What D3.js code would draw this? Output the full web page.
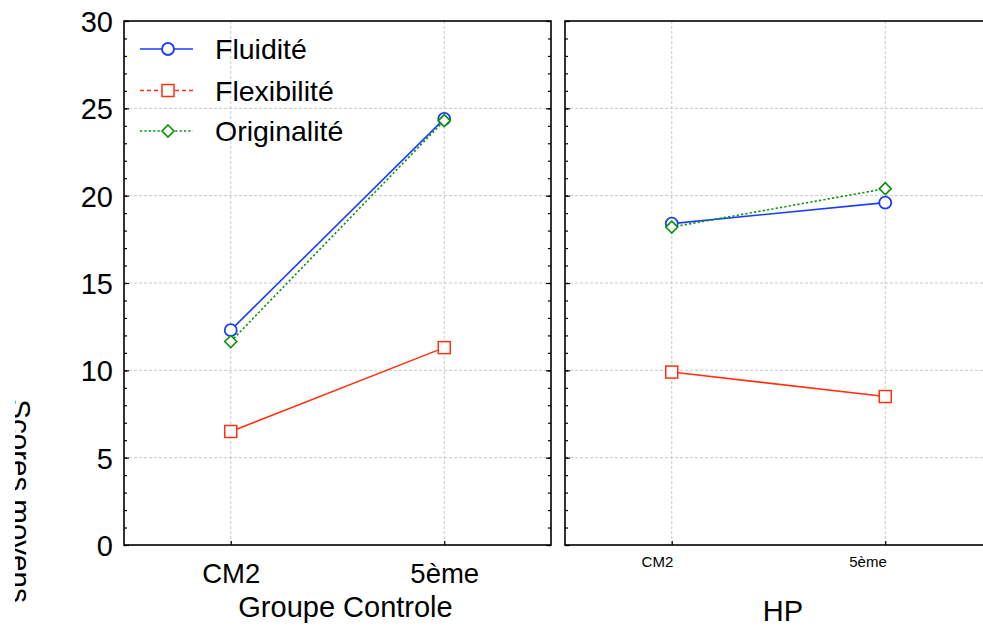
<!DOCTYPE html>
<html><head><meta charset="utf-8">
<script src="https://cdn.jsdelivr.net/npm/d3@7"></script>
<style>body{margin:0;background:#fff}svg{display:block}text{font-family:"Liberation Sans",Arial,sans-serif;fill:#000}</style>
</head><body>
<svg id="c" width="983" height="633"></svg>
<script>
const categories = ["CM2", "5ème"];
const groups = ["Groupe Controle", "HP"];
const seriesNames = ["Fluidité", "Flexibilité", "Originalité"];
const fluiditeCtrl = [12.3, 24.4];
const flexibiliteCtrl = [6.5, 11.3];
const originaliteCtrl = [11.65, 24.3];
const fluiditeHP = [18.4, 19.6];
const flexibiliteHP = [9.9, 8.5];
const originaliteHP = [18.2, 20.4];
const yMajorTicks = [0, 5, 10, 15, 20, 25, 30];
const yLabel = "Scores moyens";

(function () {
const svg = d3.select("#c");
const plotTop = 21, plotBottom = 545, pw = 427;
const panelX = [124, 565];
const y = d3.scaleLinear().domain([0, 30]).range([plotBottom, plotTop]);
const x = d3.scalePoint().domain(categories).range([0, pw]).padding(0.5);

const colors = ["#1c3cff", "#ff3210", "#079307"];
const dashes = [null, null, "2.2,2.2"];
const legendDash = [null, "4,3", "2.2,2.2"];
const panelData = [
  [fluiditeCtrl, flexibiliteCtrl, originaliteCtrl],
  [fluiditeHP, flexibiliteHP, originaliteHP]
];
const catFont = [27.5, 15];
const catPad = [18.5, 11];
const titleDx = [8, 4.5];
const titleY = [617, 621];

function marker(g, kind, color) {
  if (kind === 0) g.append("circle").attr("r", 6).attr("fill", "#fff").attr("stroke", color).attr("stroke-width", 1.8);
  else if (kind === 1) g.append("rect").attr("x", -6).attr("y", -6).attr("width", 12).attr("height", 12).attr("fill", "#fff").attr("stroke", color).attr("stroke-width", 1.5);
  else g.append("path").attr("d", "M0,-6L6,0L0,6L-6,0Z").attr("fill", "#fff").attr("stroke", color).attr("stroke-width", 1.6);
}

panelData.forEach((data, p) => {
  const g = svg.append("g").attr("transform", `translate(${panelX[p]},0)`);
  g.selectAll(".hg").data(yMajorTicks.filter(d => d > 0 && d < 30)).enter().append("line")
    .attr("x1", 0).attr("x2", pw).attr("y1", d => y(d)).attr("y2", d => y(d))
    .attr("stroke", "#c8c8c8").attr("stroke-width", 1).attr("stroke-dasharray", "3,2");
  g.selectAll(".vg").data(categories).enter().append("line")
    .attr("x1", d => x(d)).attr("x2", d => x(d)).attr("y1", plotTop).attr("y2", plotBottom)
    .attr("stroke", "#c8c8c8").attr("stroke-width", 1).attr("stroke-dasharray", "3,2");
  g.append("g").call(d3.axisLeft(y).tickValues(d3.range(0, 31)).tickSize(-3).tickFormat(""));
  const leftMaj = g.append("g").call(d3.axisLeft(y).tickValues(yMajorTicks).tickSize(-5).tickPadding(11)
      .tickFormat(p === 0 ? d3.format("d") : ""));
  leftMaj.selectAll("text").attr("font-size", 29).attr("dy", "0.36em");
  g.append("g").attr("transform", `translate(${pw},0)`)
    .call(d3.axisRight(y).tickValues(d3.range(0, 31)).tickSize(-3).tickFormat(""));
  g.append("g").attr("transform", `translate(${pw},0)`)
    .call(d3.axisRight(y).tickValues(yMajorTicks).tickSize(-5).tickFormat(""));
  const bx = g.append("g").attr("transform", `translate(0,${plotBottom})`)
    .call(d3.axisBottom(x).tickSize(-4).tickPadding(catPad[p]));
  bx.selectAll("text").attr("font-size", catFont[p]);
  if (p === 1) bx.selectAll("text").attr("text-anchor", "end").attr("x", 1);
  g.selectAll(".domain").remove();
  g.selectAll(".tick line").attr("stroke", "#000").attr("stroke-width", 1.2);
  g.append("rect").attr("x", 0).attr("y", plotTop).attr("width", pw).attr("height", plotBottom - plotTop)
    .attr("fill", "none").attr("stroke", "#000").attr("stroke-width", 1.6);
  const line = d3.line().x((d, i) => x(categories[i])).y(d => y(d));
  data.forEach((vals, s) => {
    g.append("path").datum(vals).attr("d", line).attr("fill", "none")
      .attr("stroke", colors[s]).attr("stroke-width", 1.6)
      .attr("stroke-dasharray", dashes[s]);
  });
  [0, 2, 1].forEach(s => {
    data[s].forEach((v, i) => {
      const m = g.append("g").attr("transform", `translate(${x(categories[i])},${y(v)})`);
      marker(m, s, colors[s]);
    });
  });
  g.append("text").attr("x", pw / 2 + titleDx[p]).attr("y", titleY[p])
    .attr("text-anchor", "middle").attr("font-size", 29).text(groups[p]);
});

const lg = svg.append("g");
const rowsY = [49, 90.5, 131];
seriesNames.forEach((name, s) => {
  lg.append("line").attr("x1", 140).attr("x2", 193).attr("y1", rowsY[s]).attr("y2", rowsY[s])
    .attr("stroke", colors[s]).attr("stroke-width", 1.5).attr("stroke-dasharray", legendDash[s]);
  const m = lg.append("g").attr("transform", `translate(168,${rowsY[s]})`);
  marker(m, s, colors[s]);
  lg.append("text").attr("x", 215).attr("y", rowsY[s]).attr("dy", "0.36em")
    .attr("font-size", 28.5).text(name);
});

svg.append("defs").append("clipPath").attr("id", "yclip")
  .append("rect").attr("x", 15).attr("y", 0).attr("width", 60).attr("height", 633);
svg.append("g").attr("clip-path", "url(#yclip)")
  .append("text").attr("transform", "translate(10,501) rotate(90)")
  .attr("text-anchor", "middle").attr("font-size", 29.5).text(yLabel);
})();
</script>
</body></html>
